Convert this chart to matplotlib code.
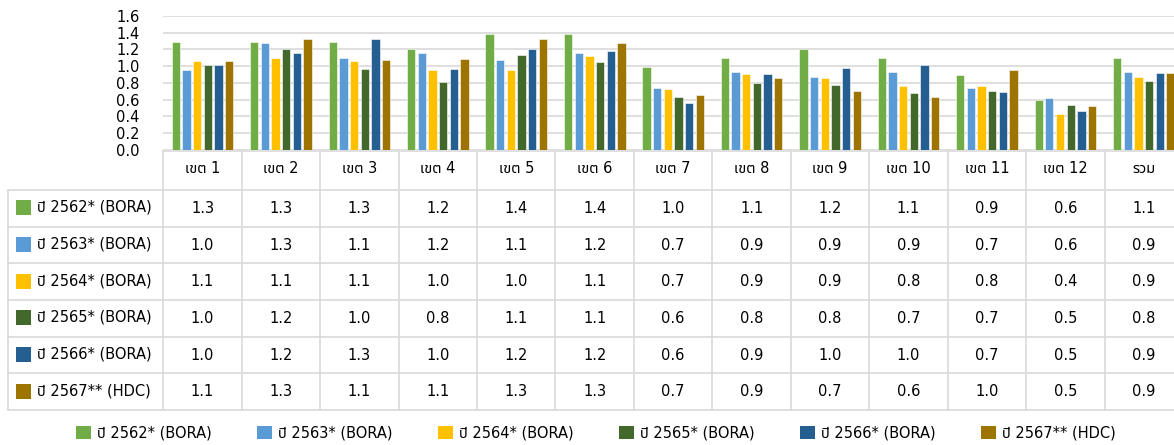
import numpy as np
import matplotlib
matplotlib.use("Agg")
import matplotlib.pyplot as plt
import matplotlib.transforms as mtransforms
from matplotlib.patches import Rectangle
from matplotlib.lines import Line2D
from matplotlib import font_manager

# ---- data ----
zones = ["เขต 1", "เขต 2", "เขต 3", "เขต 4", "เขต 5", "เขต 6", "เขต 7",
         "เขต 8", "เขต 9", "เขต 10", "เขต 11", "เขต 12", "รวม"]
series_names = ["ปี 2562* (BORA)", "ปี 2563* (BORA)", "ปี 2564* (BORA)",
                "ปี 2565* (BORA)", "ปี 2566* (BORA)", "ปี 2567** (HDC)"]
y2562 = [1.29, 1.29, 1.29, 1.20, 1.39, 1.39, 0.99, 1.10, 1.20, 1.10, 0.90, 0.60, 1.10]
y2563 = [0.96, 1.28, 1.10, 1.16, 1.08, 1.16, 0.74, 0.93, 0.87, 0.93, 0.74, 0.62, 0.93]
y2564 = [1.06, 1.10, 1.06, 0.96, 0.96, 1.12, 0.73, 0.91, 0.86, 0.76, 0.76, 0.43, 0.87]
y2565 = [1.02, 1.21, 0.97, 0.81, 1.14, 1.05, 0.63, 0.80, 0.78, 0.68, 0.70, 0.54, 0.82]
y2566 = [1.02, 1.16, 1.33, 0.97, 1.21, 1.18, 0.56, 0.91, 0.98, 1.02, 0.69, 0.46, 0.92]
y2567 = [1.06, 1.33, 1.08, 1.09, 1.32, 1.28, 0.66, 0.86, 0.70, 0.63, 0.96, 0.52, 0.92]
series = [y2562, y2563, y2564, y2565, y2566, y2567]
colors = ["#70AD47", "#5B9BD5", "#FFC000", "#43682B", "#255E91", "#9E7400"]

# font: try to find something with Thai glyphs
avail = {f.name for f in font_manager.fontManager.ttflist}
thai = [n for n in ["Noto Sans Thai", "Noto Sans Thai UI", "Tahoma", "Loma",
                    "Garuda", "Norasi", "TH Sarabun New", "Sarabun"] if n in avail]
plt.rcParams["font.family"] = ["DejaVu Sans"] + thai
plt.rcParams["font.size"] = 10

W, H = 1174, 445
fig = plt.figure(figsize=(W / 100, H / 100), dpi=100)

def fx(px):
    return px / W

def fy(py):
    return 1 - py / H

ax_l, ax_r, ax_t, ax_b = 163.3, 1183.0, 16.0, 150.0
ax = fig.add_axes([fx(ax_l), fy(ax_b), fx(ax_r - ax_l), (ax_b - ax_t) / H])

x = np.arange(len(zones))
n = len(series)
slot = 0.136
bw = 0.106
for i, (vals, c) in enumerate(zip(series, colors)):
    ax.bar(x + (i - (n - 1) / 2) * slot, vals, width=bw, color=c,
           edgecolor="white", linewidth=0.4, zorder=3)

ax.set_xlim(-0.5, len(zones) - 0.5)
ax.set_ylim(0, 1.6)
ax.set_yticks(np.arange(0, 1.61, 0.2))
ax.set_yticklabels([f"{v:.1f}" for v in np.arange(0, 1.61, 0.2)], fontsize=10.5)
ax.set_xticks([])
ax.tick_params(axis="y", length=0, pad=17, colors="#000000")
ax.grid(axis="y", color="#D9D9D9", linewidth=1.2, zorder=0)
for s in ax.spines.values():
    s.set_visible(False)

# ---- data table below the chart ----
tr = mtransforms.blended_transform_factory(ax.transData, fig.transFigure)
line_c = "#D9D9D9"
hdr_top, hdr_bot = 151.0, 190.0
row_h = 36.67
rows_y = [hdr_bot + k * row_h for k in range(len(series) + 1)]
left_px = 8.0

# horizontal lines
fig.add_artist(Line2D([fx(ax_l), 1.0], [fy(hdr_top)] * 2, color=line_c, lw=1.2))
for yy in rows_y:
    fig.add_artist(Line2D([fx(left_px), 1.0], [fy(yy)] * 2, color=line_c, lw=1.2))
# vertical lines
fig.add_artist(Line2D([fx(left_px)] * 2, [fy(hdr_bot), fy(rows_y[-1])], color=line_c, lw=1.2))
for b in np.arange(-0.5, len(zones), 1.0):
    ax.add_line(Line2D([b, b], [fy(hdr_top), fy(rows_y[-1])], color=line_c, lw=1.2,
                       transform=tr, clip_on=False))

# header
for i, z in enumerate(zones):
    ax.text(i, fy((hdr_top + hdr_bot) / 2 - 2), z, transform=tr, ha="center",
            va="center", fontsize=10.5, clip_on=False)

# rows
for r, (name, vals, c) in enumerate(zip(series_names, series, colors)):
    yc = (rows_y[r] + rows_y[r + 1]) / 2
    fig.add_artist(Rectangle((fx(16), fy(yc + 7)), fx(15), 15 / H,
                             facecolor=c, edgecolor="none"))
    fig.text(fx(37), fy(yc - 1), name, ha="left", va="center", fontsize=10.5)
    for i, v in enumerate(vals):
        ax.text(i, fy(yc), f"{v:.1f}", transform=tr, ha="center",
                va="center", fontsize=10.5, clip_on=False)

# legend
handles = [Rectangle((0, 0), 1, 1, facecolor=c, edgecolor="none") for c in colors]
fig.legend(handles, series_names, loc="center", bbox_to_anchor=(fx(596), fy(433)),
           ncol=6, frameon=False, fontsize=10.5, handlelength=1.0, handleheight=1.0,
           handletextpad=0.45, columnspacing=3.1)

fig.savefig("out.png", dpi=100)
